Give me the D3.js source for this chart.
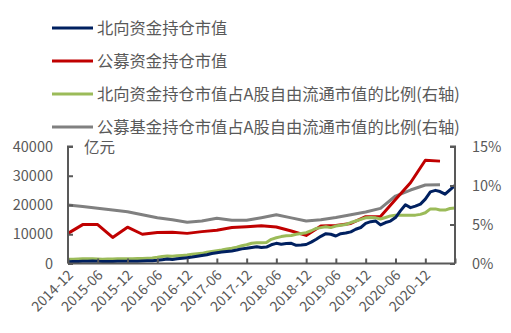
<!DOCTYPE html>
<html><head><meta charset="utf-8">
<script src="https://cdn.jsdelivr.net/npm/d3@7"></script>
<style>
html,body{margin:0;padding:0;background:#fff;}
svg{display:block;font-family:"Noto Sans CJK SC","Noto Sans",sans-serif;}
</style></head><body>
<svg id="c" width="511" height="333"></svg>
<script>
const seriesNames = ["北向资金持仓市值","公募资金持仓市值","北向资金持仓市值占A股自由流通市值的比例(右轴)","公募基金持仓市值占A股自由流通市值的比例(右轴)"];
const seriesColors = ["#002060","#C00000","#9BBB59","#808080"];
const xTickLabels = ["2014-12","2015-06","2015-12","2016-06","2016-12","2017-06","2017-12","2018-06","2018-12","2019-06","2019-12","2020-06","2020-12"];
const leftTicks = [0,10000,20000,30000,40000];
const rightTicks = [0,5,10,15];
const unitLabel = "亿元";
// monthly, 2014-12 .. 2021-06
const northValue = [600,650,700,750,800,850,750,700,700,700,750,750,750,
  800,800,850,900,950,1100,1300,1500,1350,1600,1800,2000,
  2200,2450,2700,3000,3400,3700,3900,4100,4300,4600,5000,5200,
  5500,5750,5500,5600,6400,6900,6600,6800,6900,6200,6300,6500,
  7300,8300,9300,10200,10000,9400,10200,10400,10800,11700,12300,13700,
  14300,14500,13200,14000,14500,15700,18000,20100,19100,19600,20300,22000,
  24500,25000,24600,23700,25200,26700];
const northRatio = [0.55,0.56,0.58,0.6,0.6,0.6,0.58,0.56,0.57,0.58,0.6,0.6,0.6,
  0.62,0.63,0.65,0.68,0.72,0.8,0.9,0.96,0.93,0.98,1.03,1.09,
  1.18,1.25,1.3,1.45,1.55,1.64,1.72,1.85,1.95,2.1,2.28,2.4,
  2.6,2.67,2.67,2.7,3.1,3.3,3.45,3.55,3.6,3.75,3.85,3.95,
  4.2,4.5,4.6,4.7,4.6,4.8,4.9,5.0,5.25,5.45,5.65,5.87,
  5.9,5.85,5.7,5.9,6.1,6.2,6.2,6.2,6.2,6.2,6.3,6.5,
  7.0,7.0,6.85,6.85,7.05,7.1];
// quarterly, 2014-12 .. 2021-03
const fundValue = [10300,13300,13300,8900,12400,10000,10600,10700,10300,10900,11400,12300,12600,
  12900,12500,11100,9600,12800,13000,13700,16000,16100,21900,27600,35300,35000];
const fundRatio = [7.5,7.3,7.08,6.85,6.64,6.25,5.87,5.6,5.28,5.45,5.79,5.54,5.54,
  5.87,6.25,5.85,5.45,5.6,5.9,6.25,6.6,7.07,8.65,9.42,10.06,10.1];

const parse = d3.timeParse("%Y-%m");
const start = parse("2014-12"), end = parse("2021-06");
const months = d3.timeMonth.range(start, d3.timeMonth.offset(end,1));
const quarters = months.filter((d,i)=>i%3===0).slice(0, fundValue.length);

const svg = d3.select("#c");
const L = 68, R = 455, T = 146.5, B = 263.5;
const x = d3.scaleTime().domain([start,end]).range([L,R]);
const yL = d3.scaleLinear().domain([0,40000]).range([B,T]);
const yR = d3.scaleLinear().domain([0,15]).range([B,T]);
const grey = "#595959";

// legend
seriesNames.forEach((n,i)=>{
  const yy = 28 + i*33;
  svg.append("line").attr("x1",52).attr("x2",93).attr("y1",yy).attr("y2",yy)
    .attr("stroke",seriesColors[i]).attr("stroke-width",3);
  svg.append("text").attr("x",97).attr("y",yy+5.5).attr("fill",grey)
    .attr("font-size",16.3).text(n);
});

// lines
const line = (sc, dates) => d3.line().x((d,i)=>x(dates[i])).y(d=>sc(d));
const plots = [[northValue,yL,months,0],[fundValue,yL,quarters,1],[northRatio,yR,months,2],[fundRatio,yR,quarters,3]];
[plots[3],plots[1],plots[2],plots[0]].forEach(([data,sc,dates,ci])=>{
  svg.append("path").datum(data).attr("d",line(sc,dates)).attr("fill","none")
    .attr("stroke",seriesColors[ci]).attr("stroke-width",3).attr("stroke-linejoin","round");
});

// axes
const axL = svg.append("g").attr("transform",`translate(${L},0)`)
  .call(d3.axisRight(yL).tickValues(leftTicks).tickSize(5).tickFormat(""));
const axR = svg.append("g").attr("transform",`translate(${R},0)`)
  .call(d3.axisLeft(yR).tickValues(rightTicks).tickSize(5).tickFormat(""));
const xTicks = months.filter((d,i)=>i%6===0);
const axB = svg.append("g").attr("transform",`translate(0,${B})`)
  .call(d3.axisTop(x).tickValues(xTicks).tickSize(5).tickFormat(""));
[axL,axR,axB].forEach(a=>{
  a.selectAll("path,line").attr("stroke",grey).attr("stroke-width",2);
});
axL.select("path.domain").attr("d",`M5,${T}H0V${B}`);
axR.select("path.domain").attr("d",`M-5,${T}H0V${B}`);
axB.select("path.domain").attr("d",`M${L},0H${R}`);

svg.append("g").selectAll("text").data(leftTicks).join("text")
  .attr("x",53).attr("y",d=>yL(d)).attr("dy","0.35em").attr("text-anchor","end")
  .attr("fill",grey).attr("font-size",14.5).text(d=>d);
svg.append("g").selectAll("text").data(rightTicks).join("text")
  .attr("x",472).attr("y",d=>yR(d)).attr("dy","0.35em").attr("text-anchor","start")
  .attr("fill",grey).attr("font-size",14.5).text(d=>d+"%");
svg.append("g").selectAll("text").data(xTickLabels).join("text")
  .attr("transform",d=>`translate(${x(parse(d))+6},${276}) rotate(-45)`)
  .attr("text-anchor","end").attr("fill",grey).attr("font-size",14).text(d=>d);

svg.append("text").attr("x",84).attr("y",153).attr("fill",grey).attr("font-size",15.5).text(unitLabel);
</script>
</body></html>
